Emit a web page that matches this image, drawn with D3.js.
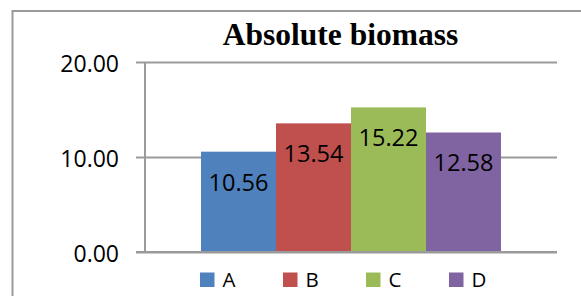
<!DOCTYPE html>
<html>
<head>
<meta charset="utf-8">
<script src="https://cdn.jsdelivr.net/npm/d3@7"></script>
<style>
  html, body { margin: 0; padding: 0; background: #fff; overflow: hidden; }
  svg { display: block; }
  text { font-family: "Open Sans", "Noto Sans", sans-serif; fill: #000; }
</style>
</head>
<body>
<svg id="chart"></svg>
<script>
"use strict";

// data
var series = ["A", "B", "C", "D"];
var values = [10.56, 13.54, 15.22, 12.58];
var colors = ["#4f81bd", "#c0504d", "#9bbb59", "#8064a2"];
var yTicks = [0, 10, 20];
var title = "Absolute biomass";

var W = 581, H = 296;
var plot = { left: 145, right: 557, top: 62, bottom: 252 };
var gridColor = "#9a9a9a";

var svg = d3.select("#chart")
  .attr("width", W)
  .attr("height", H);

svg.append("rect")
  .attr("width", W).attr("height", H)
  .attr("fill", "#fff");

// outer chart frame (runs off the right/bottom edge)
svg.append("rect")
  .attr("x", 12.5).attr("y", 11)
  .attr("width", 700).attr("height", 400)
  .attr("fill", "none")
  .attr("stroke", gridColor)
  .attr("stroke-width", 2);

var y = d3.scaleLinear()
  .domain([0, 20])
  .range([plot.bottom, plot.top]);

var x = d3.scaleBand()
  .domain(series)
  .range([plot.left, plot.right])
  .paddingInner(0)
  .paddingOuter(0.747);

// gridlines + ticks
var yAxis = d3.axisLeft(y)
  .tickValues(yTicks)
  .tickSize(-(plot.right - plot.left))
  .tickFormat(d3.format(".2f"));

var gAxis = svg.append("g")
  .attr("transform", "translate(" + plot.left + ",0)")
  .call(yAxis);

gAxis.select(".domain").remove();
gAxis.selectAll(".tick line")
  .attr("x1", -9)
  .attr("stroke", gridColor)
  .attr("stroke-width", 2);
gAxis.selectAll(".tick text")
  .attr("x", -26)
  .attr("dy", "9.5px")
  .attr("fill", "#000")
  .style("font-size", "23px")
  .style("font-family", "'Open Sans', 'Noto Sans', sans-serif");

// vertical axis line
svg.append("line")
  .attr("x1", plot.left).attr("x2", plot.left)
  .attr("y1", plot.top).attr("y2", plot.bottom)
  .attr("stroke", gridColor)
  .attr("stroke-width", 2);

// bars
var rows = series.map(function (s, i) {
  return { key: s, value: values[i], color: colors[i] };
});

svg.append("g").selectAll("rect")
  .data(rows)
  .enter().append("rect")
  .attr("x", function (d) { return x(d.key); })
  .attr("width", x.bandwidth())
  .attr("y", function (d) { return y(d.value); })
  .attr("height", function (d) { return y(0) - y(d.value); })
  .attr("fill", function (d) { return d.color; });

// baseline redrawn over bars
svg.append("line")
  .attr("x1", plot.left - 9).attr("x2", plot.right)
  .attr("y1", y(0)).attr("y2", y(0))
  .attr("stroke", gridColor)
  .attr("stroke-width", 2);

// data labels
svg.append("g").selectAll("text")
  .data(rows)
  .enter().append("text")
  .attr("x", function (d) { return x(d.key) + x.bandwidth() / 2; })
  .attr("y", function (d) { return y(d.value) + 39; })
  .attr("text-anchor", "middle")
  .style("font-size", "23.5px")
  .text(function (d) { return d.value.toFixed(2); });

// title
svg.append("text")
  .attr("x", 340.5)
  .attr("y", 45)
  .attr("text-anchor", "middle")
  .style("font-family", "'Liberation Serif', 'Times New Roman', serif")
  .style("font-weight", "bold")
  .style("font-size", "31.5px")
  .text(title);

// legend
var legend = svg.append("g").selectAll("g")
  .data(rows)
  .enter().append("g")
  .attr("transform", function (d, i) { return "translate(" + (200 + i * 83) + ",272.5)"; });

legend.append("rect")
  .attr("width", 14.5)
  .attr("height", 14.5)
  .attr("fill", function (d) { return d.color; });

legend.append("text")
  .attr("x", 22.5)
  .attr("y", 14.5)
  .style("font-size", "20.5px")
  .text(function (d) { return d.key; });
</script>
</body>
</html>
